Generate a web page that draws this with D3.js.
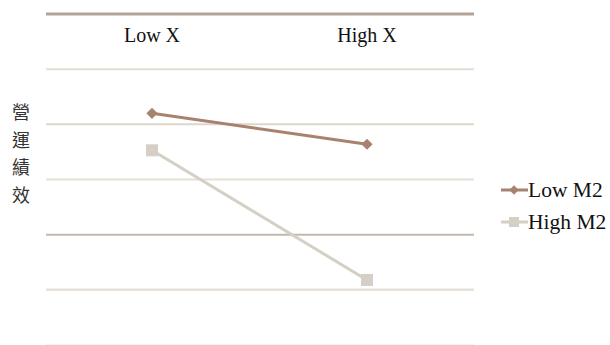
<!DOCTYPE html>
<html><head><meta charset="utf-8">
<script src="https://cdn.jsdelivr.net/npm/d3@7"></script>
<style>body{margin:0;background:#fff} svg text.sr{font-family:"Liberation Serif"}</style>
</head><body>
<svg id="c" width="610" height="345"></svg>
<script>
const categories = ["Low X", "High X"];
const seriesNames = ["Low M2", "High M2"];
const lowM2 = [4.19, 3.63];
const highM2 = [3.52, 1.17];
const yTicks = [0, 1, 2, 3, 4, 5, 6];
const yTitle = "營運績效";

const svg = d3.select("#c");
const x = d3.scalePoint().domain(categories).range([152, 367]);
const y = d3.scaleLinear().domain([0, 6]).range([344.5, 13.5]);

const gridStyle = {
  6: {c: "#b3a397", w: 3},
  5: {c: "#e3ddd2", w: 2},
  4: {c: "#ddd6cb", w: 2},
  3: {c: "#e6e0d6", w: 2},
  2: {c: "#c3b9ab", w: 2},
  1: {c: "#e6e2da", w: 2.5},
  0: {c: "#f6eeec", w: 1.5}
};
const gy = svg.append("g").attr("transform", "translate(474,0)").call(d3.axisRight(y).tickValues(yTicks).tickSize(-428).tickFormat(""));
gy.select(".domain").remove();
gy.selectAll(".tick line").each(function(d){
  d3.select(this).attr("stroke", gridStyle[d].c).attr("stroke-width", gridStyle[d].w);
});

// x labels on top
svg.append("g").selectAll("text").data(categories).enter().append("text")
  .attr("class", "sr")
  .attr("x", d => x(d)).attr("y", 42).attr("text-anchor", "middle")
  .attr("font-size", 20).attr("fill", "#111").text(d => d);

// y title vertical
const t = svg.append("text").attr("font-family", "Noto Sans CJK TC").attr("font-size", 18).attr("fill", "#333").attr("text-anchor", "middle");
yTitle.split("").forEach((ch, i) => {
  t.append("tspan").attr("x", 21).attr("y", 119 + i * 27.5).text(ch);
});

const line = d3.line().x((d, i) => x(categories[i])).y(d => y(d));
const colors = ["#a8826f", "#d5cfc6"];

svg.append("path").datum(highM2).attr("d", line).attr("fill", "none").attr("stroke", colors[1]).attr("stroke-width", 3);
svg.selectAll(".sq").data(highM2).enter().append("rect")
  .attr("x", (d, i) => x(categories[i]) - 6).attr("y", d => y(d) - 6)
  .attr("width", 12).attr("height", 12).attr("fill", colors[1]);

svg.append("path").datum(lowM2).attr("d", line).attr("fill", "none").attr("stroke", colors[0]).attr("stroke-width", 3);
const diamond = d3.symbol().type(d3.symbolDiamond2).size(80);
svg.selectAll(".dm").data(lowM2).enter().append("path")
  .attr("d", diamond)
  .attr("transform", (d, i) => `translate(${x(categories[i])},${y(d)})`)
  .attr("fill", colors[0]);

// legend
const lg = svg.append("g");
seriesNames.forEach((name, i) => {
  const cy = 190 + i * 32;
  lg.append("line").attr("x1", 501).attr("x2", 528).attr("y1", cy).attr("y2", cy).attr("stroke", colors[i]).attr("stroke-width", 3);
  if (i === 0) {
    lg.append("path").attr("d", d3.symbol().type(d3.symbolDiamond2).size(55)).attr("transform", `translate(514,${cy})`).attr("fill", colors[0]);
  } else {
    lg.append("rect").attr("x", 509).attr("y", cy - 5).attr("width", 10).attr("height", 10).attr("fill", colors[1]);
  }
  lg.append("text").attr("class", "sr").attr("x", 528).attr("y", cy + 7).attr("font-size", 21.5).attr("fill", "#111").text(name);
});
</script>
</body></html>
